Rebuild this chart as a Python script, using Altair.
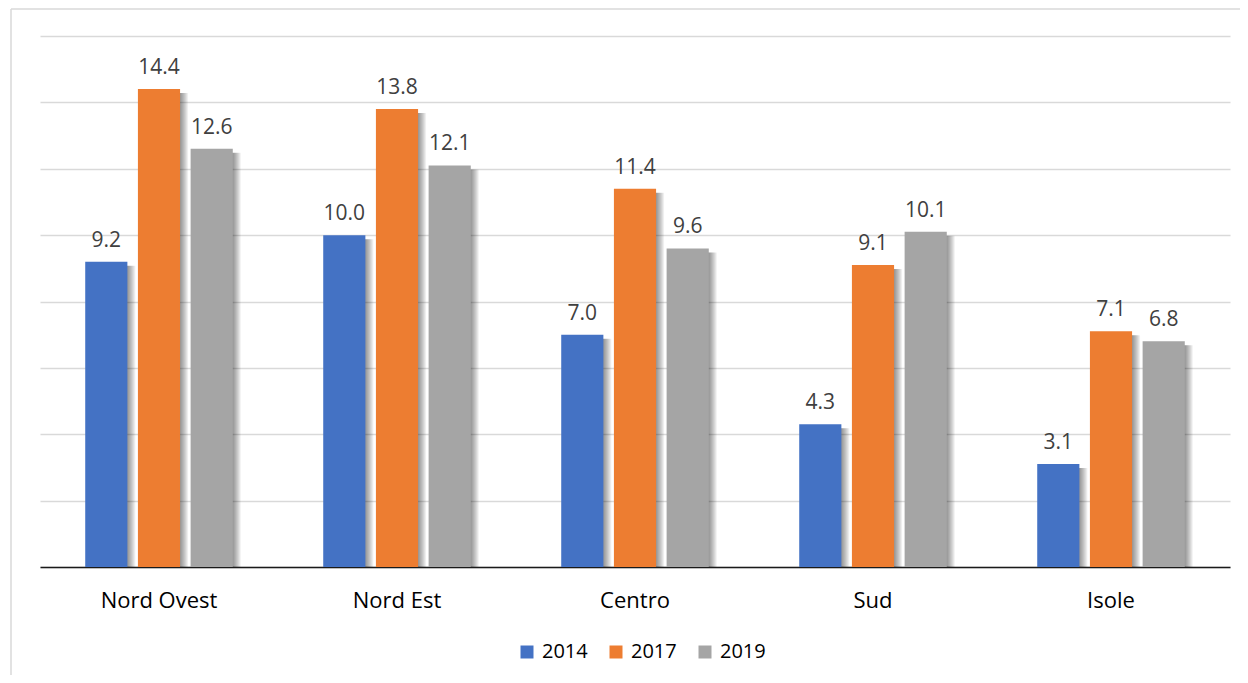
import altair as alt
import pandas as pd

regions = ["Nord Ovest", "Nord Est", "Centro", "Sud", "Isole"]
years = ["2014", "2017", "2019"]
v2014 = [9.2, 10.0, 7.0, 4.3, 3.1]
v2017 = [14.4, 13.8, 11.4, 9.1, 7.1]
v2019 = [12.6, 12.1, 9.6, 10.1, 6.8]
colors = ["#4472C4", "#ED7D31", "#A5A5A5"]

rows = []
for i, r in enumerate(regions):
    for y, vals in zip(years, [v2014, v2017, v2019]):
        rows.append({"region": r, "year": y, "value": vals[i]})
df = pd.DataFrame(rows)

FONT = "Open Sans"
BAND = 238 * 0.62


def xoff(shift):
    return alt.XOffset("year:N", sort=years,
                       scale=alt.Scale(type="band", domain=years,
                                       range=[shift, BAND + shift],
                                       paddingInner=0.2, paddingOuter=0))


x_enc = alt.X("region:N", sort=regions,
              scale=alt.Scale(paddingInner=0.38, paddingOuter=0.19),
              axis=alt.Axis(title=None, labelAngle=0, ticks=False, grid=False,
                            domainColor="#1a1a1a", domainWidth=1.5,
                            labelFontSize=22, labelColor="#000000",
                            labelFont=FONT, labelPadding=23))
y_enc = alt.Y("value:Q", scale=alt.Scale(domain=[0, 16], nice=False),
              axis=alt.Axis(title=None, labels=False, ticks=False, domain=False,
                            values=[0, 2, 4, 6, 8, 10, 12, 14, 16],
                            gridColor="#d9d9d9", gridWidth=1.5))

base = alt.Chart(df)

shadows = [
    base.mark_bar(color="#000000", opacity=0.06, yOffset=4, clip=True)
    .encode(x=x_enc, xOffset=xoff(k), y=alt.Y("value:Q"))
    for k in (1, 2, 3, 4, 5, 6, 7, 8)
]

bars = base.mark_bar().encode(
    x=x_enc, xOffset=xoff(0), y=y_enc,
    color=alt.Color("year:N", sort=years,
                    scale=alt.Scale(domain=years, range=colors),
                    legend=alt.Legend(title=None, orient="none", direction="horizontal",
                                      legendX=477, legendY=606,
                                      symbolType="square", symbolSize=169,
                                      symbolStrokeWidth=0,
                                      labelFontSize=20, labelFont=FONT,
                                      labelColor="#000000", labelOffset=5,
                                      columnPadding=18)),
)

labels = base.mark_text(baseline="alphabetic", dy=-15, fontSize=21, font=FONT,
                        color="#404040").encode(
    x=x_enc, xOffset=xoff(0), y=alt.Y("value:Q"),
    text=alt.Text("value:Q", format=".1f"),
)

frame_data = alt.Data(values=[{"a": 1}])
frame_top = alt.Chart(frame_data).mark_rule(color="#d9d9d9", strokeWidth=1.5).encode(
    x=alt.value(-29), x2=alt.value(1300), y=alt.value(-27))
frame_left = alt.Chart(frame_data).mark_rule(color="#d9d9d9", strokeWidth=1.5).encode(
    x=alt.value(-29), y=alt.value(-27), y2=alt.value(700))

chart = alt.layer(frame_top, frame_left, *shadows, bars, labels).resolve_scale(
    xOffset="independent"
).properties(
    width=1190, height=531,
    autosize=alt.AutoSizeParams(type="none"),
    padding={"left": 32, "top": 28, "right": 10, "bottom": 108},
).configure(font=FONT, background="#ffffff").configure_view(stroke=None)

chart.save("out.html", embed_options={"renderer": "svg", "actions": False})
